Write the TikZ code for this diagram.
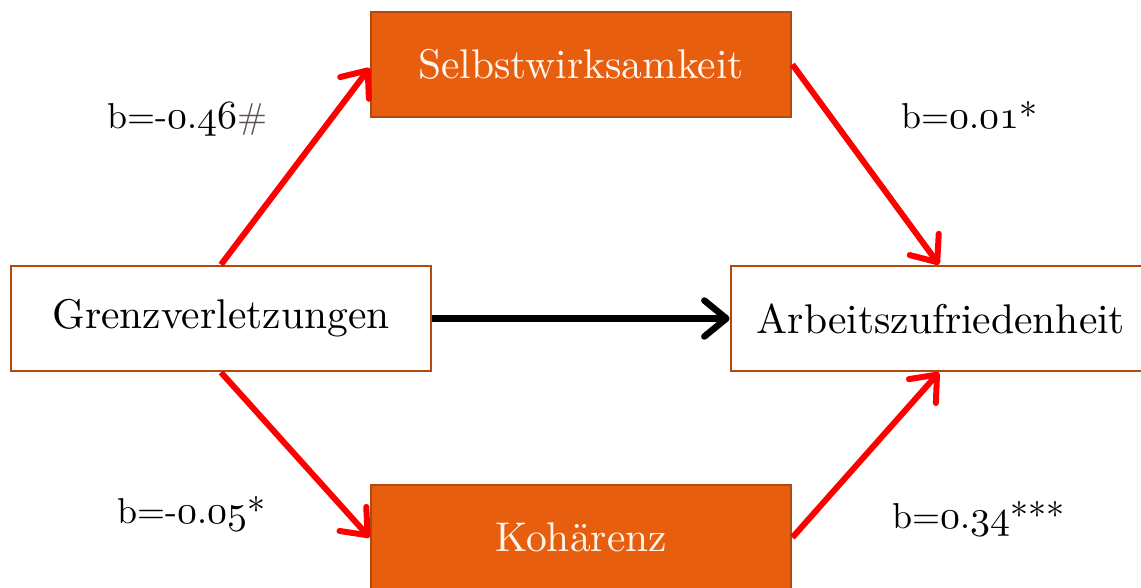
\documentclass[tikz,border=0pt]{standalone}
\usepackage{fontspec}
\setmainfont{lmroman10-regular}[Extension=.otf]
\usetikzlibrary{arrows.meta}
\definecolor{boxorange}{HTML}{E85E0F}
\definecolor{boxborder}{HTML}{B04A0E}
\definecolor{boxtext}{HTML}{FFF6EE}
\definecolor{hashgray}{HTML}{5A5252}
\font\osnfont=cmmi10 at 40pt
\newcommand{\osn}[1]{{\osnfont #1}}
\tikzset{
  vbox/.style={draw=boxborder, line width=2.8pt, minimum width=420pt, minimum height=105pt,
    inner sep=0pt, font=\fontsize{41.5}{49}\selectfont},
  obox/.style={vbox, fill=boxorange, text=boxtext},
  wbox/.style={vbox, fill=white, text=black},
  coef/.style={anchor=base west, inner sep=0pt, font=\fontsize{36}{43}\selectfont},
  redarrow/.style={draw=red, line width=6pt, -{Straight Barb[round, length=22pt, width=36pt]}},
  blackarrow/.style={draw=black, line width=6.5pt, -{Straight Barb[round, length=22pt, width=36pt]}},
}
\begin{document}
\begin{tikzpicture}[x=1pt, y=-1pt]
\clip (0,0) rectangle (1141,588);
\fill[white] (0,0) rectangle (1141,588);
\node[obox] (selbst) at (581,64.5) {Selbstwirksamkeit};
\node[wbox] (grenz) at (221,318.5) {Grenzverletzungen};
\node[wbox] (arbeit) at (941,318.5) {Arbeitszufriedenheit};
\node[obox] (koh) at (581,537.5) {Kohärenz};
\draw[redarrow] (grenz.north) -- ([yshift=-3.5pt]selbst.west);
\draw[redarrow] (selbst.east) -- ([xshift=-2pt]arbeit.north);
\draw[redarrow] (grenz.south) -- (koh.west);
\draw[redarrow] (koh.east) -- ([xshift=-2pt]arbeit.south);
\draw[blackarrow] (grenz.east) -- (arbeit.west);
\node[coef] (l1) at (107,129) {b=-\osn{0}.\osn{46}\textcolor{hashgray}{\#}};
\node[coef] (l2) at (901,129) {b=\osn{0}.\osn{01}*};
\node[coef] (l3) at (117,523) {b=-\osn{0}.\osn{05}*};
\node[coef] (l4) at (892,528) {b=\osn{0}.\osn{34}***};
\end{tikzpicture}
\end{document}
